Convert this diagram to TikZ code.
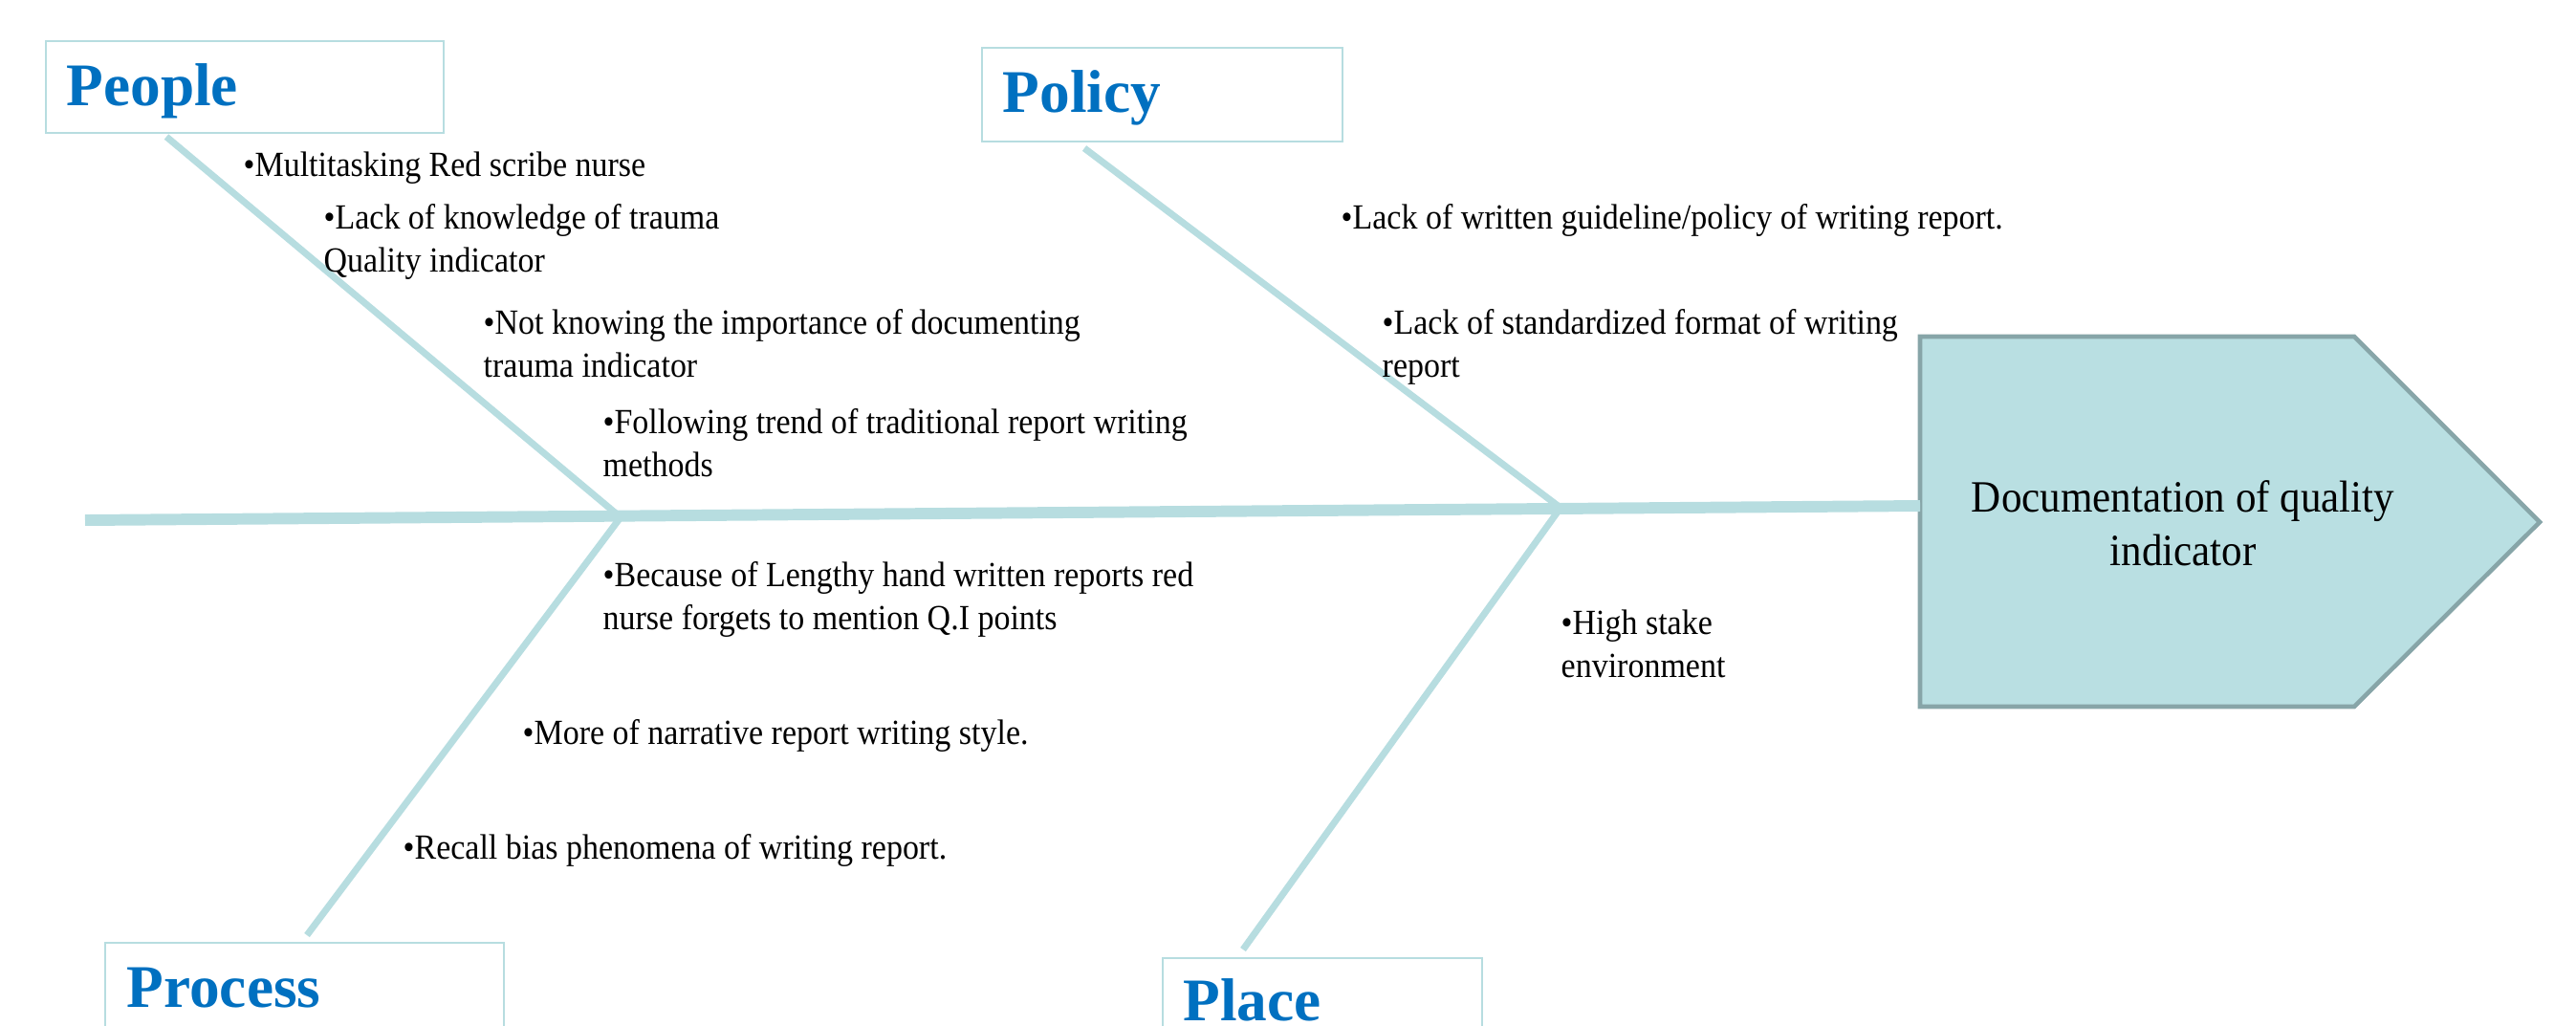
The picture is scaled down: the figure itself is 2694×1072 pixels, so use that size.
\documentclass[tikz,border=0pt]{standalone}
\usepackage{fontspec}
\setmainfont[FakeStretch=0.92]{Liberation Serif}
\newfontfamily\headfont{Liberation Serif}
\definecolor{bone}{HTML}{B7DDE0}
\definecolor{boxline}{HTML}{B7DDE0}
\definecolor{headblue}{HTML}{0070C0}
\definecolor{effectfill}{HTML}{B9DFE2}
\definecolor{effectline}{HTML}{87A5A8}
\begin{document}
\begin{tikzpicture}[x=0.01cm,y=-0.01cm,
  catbox/.style={draw=boxline,line width=0.8pt},
  cattext/.style={anchor=base west,inner sep=0pt,text=headblue,font=\headfont\fontsize{18}{20}\selectfont\bfseries},
  bonel/.style={draw=bone,line width=2pt},
  spinel/.style={draw=bone,line width=3.4pt},
  cause/.style={anchor=north west,inner sep=0pt,align=left,font=\fontsize{10.5}{12.7}\selectfont},
]
\useasboundingbox (0,0) rectangle (2694,1072);
% category boxes
\draw[catbox] (48,43) rectangle (464,139);
\node[cattext] (people) at (69,110) {People};
\draw[catbox] (1027,50) rectangle (1404,148);
\node[cattext] (policy) at (1048,117) {Policy};
\draw[catbox] (110,986) rectangle (527,1090);
\node[cattext] (process) at (132,1053) {Process};
\draw[catbox] (1216,1002) rectangle (1550,1090);
\node[cattext] (place) at (1237,1067) {Place};
% effect
\draw[fill=effectfill,draw=effectline,line width=1.3pt,line join=miter]
  (2008,352) -- (2462,352) -- (2656,546) -- (2462,739) -- (2008,739) -- cycle;
\coordinate (effectw) at (2008,529);
\node[align=center,inner sep=0pt,font=\fontsize{13.3}{16}\selectfont] (effect) at (2283,547)
  {Documentation of quality\\indicator};
% spine and bones
\coordinate (tail) at (89,544);
\coordinate (j1) at (649,541);
\coordinate (j2) at (1632,531);
\coordinate (peopleend) at (174,143);
\coordinate (policyend) at (1134,155);
\coordinate (processend) at (321,978);
\coordinate (placeend) at (1300,993);
\draw[spinel] (tail) -- (effectw);
\draw[bonel] (peopleend) -- (j1);
\draw[bonel] (j1) -- (processend);
\draw[bonel] (policyend) -- (j2);
\draw[bonel] (j2) -- (placeend);
% causes
\node[cause] (c1) at (254,158) {\textbullet Multitasking Red scribe nurse};
\node[cause] (c2) at (338,213) {\textbullet Lack of knowledge of trauma\\Quality indicator};
\node[cause] (c3) at (505,323) {\textbullet Not knowing the importance of documenting\\trauma indicator};
\node[cause] (c4) at (630,427) {\textbullet Following trend of traditional report writing\\methods};
\node[cause] (c5) at (630,587) {\textbullet Because of Lengthy hand written reports red\\nurse forgets to mention Q.I points};
\node[cause] (c6) at (546,752) {\textbullet More of narrative report writing style.};
\node[cause] (c7) at (421,872) {\textbullet Recall bias phenomena of writing report.};
\node[cause] (c8) at (1402,213) {\textbullet Lack of written guideline/policy of writing report.};
\node[cause] (c9) at (1445,323) {\textbullet Lack of standardized format of writing\\report};
\node[cause] (c10) at (1632,637) {\textbullet High stake\\environment};
\end{tikzpicture}
\end{document}
